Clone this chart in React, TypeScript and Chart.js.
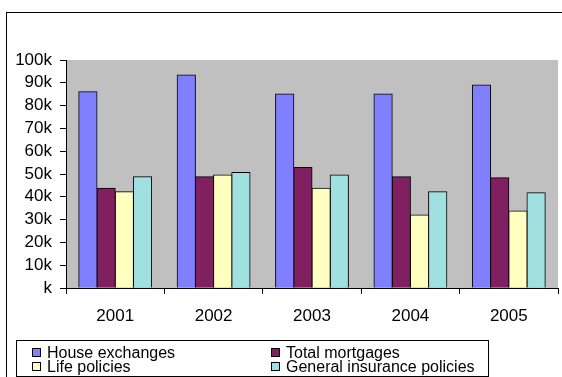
import React, { useEffect, useRef } from "react";
import { Chart, registerables } from "chart.js";

Chart.register(...registerables);

const categories = ["2001", "2002", "2003", "2004", "2005"];
const houseExchanges = [86100, 93400, 85100, 85100, 89000];
const totalMortgages = [43700, 48800, 52800, 48800, 48400];
const lifePolicies = [42200, 49600, 43700, 32000, 33800];
const generalInsurance = [48800, 50700, 49600, 42200, 41800];
const yTickStep = 10000;
const yMax = 100000;

const FONT = '"Liberation Sans", Arial, sans-serif';

const framePlugin = {
  id: "frame",
  beforeDraw(chart: any) {
    const { ctx, chartArea } = chart;
    ctx.save();
    ctx.fillStyle = "#ffffff";
    ctx.fillRect(0, 0, chart.width, chart.height);
    ctx.fillStyle = "#C0C0C0";
    ctx.fillRect(chartArea.left, chartArea.top, chartArea.right - chartArea.left, chartArea.bottom - chartArea.top);
    ctx.restore();
  },
  afterDraw(chart: any) {
    const { ctx } = chart;
    ctx.save();
    ctx.strokeStyle = "#000";
    ctx.lineWidth = 1;
    ctx.strokeRect(6.5, 12.5, 800, 600);
    // legend
    ctx.strokeRect(16.5, 340.5, 472, 36);
    const ds = chart.data.datasets;
    const colX = [32, 271];
    const rowY = [353, 367];
    ctx.font = `16px ${FONT}`;
    ctx.textBaseline = "middle";
    ctx.textAlign = "left";
    ds.forEach((d: any, i: number) => {
      const col = i % 2;
      const row = Math.floor(i / 2);
      const x = colX[col];
      const y = rowY[row];
      ctx.fillStyle = d.backgroundColor;
      ctx.fillRect(x + 0.5, y - 4.5, 8, 8);
      ctx.strokeStyle = "#000";
      ctx.strokeRect(x + 0.5, y - 4.5, 8, 8);
      ctx.fillStyle = "#000";
      ctx.fillText(d.label, x + 15, y + 1);
    });
    ctx.restore();
  },
};

export default function App() {
  const ref = useRef<HTMLCanvasElement>(null);
  useEffect(() => {
    if (!ref.current) return;
    const mk = (label: string, data: number[], color: string) => ({
      label,
      data,
      backgroundColor: color,
      borderColor: "#000",
      borderWidth: 1,
      borderSkipped: "bottom" as any,
      inflateAmount: 0.5,
    });
    const chart = new Chart(ref.current, {
      type: "bar",
      data: {
        labels: categories,
        datasets: [
          mk("House exchanges", houseExchanges, "#8080FF"),
          mk("Total mortgages", totalMortgages, "#802060"),
          mk("Life policies", lifePolicies, "#FFFFC0"),
          mk("General insurance policies", generalInsurance, "#A0E0E0"),
        ],
      },
      options: {
        responsive: false,
        animation: false,
        datasets: { bar: { categoryPercentage: 0.74, barPercentage: 1 } },
        layout: { padding: { left: 0, top: 60, right: 4, bottom: 0 } },
        plugins: { legend: { display: false }, tooltip: { enabled: false } },
        scales: {
          x: {
            afterFit: (s: any) => { s.height = 89; },
            grid: { display: true, drawOnChartArea: false, drawTicks: true, tickLength: 6, color: "#000", offset: true },
            border: { display: true, color: "#000" },
            ticks: { color: "#000", font: { family: FONT, size: 17 }, padding: 12, maxRotation: 0 },
          },
          y: {
            min: 0,
            max: yMax,
            afterFit: (s: any) => { s.width = 66; },
            grid: { display: true, drawOnChartArea: false, drawTicks: true, tickLength: 6, color: "#000" },
            border: { display: true, color: "#000" },
            ticks: {
              stepSize: yTickStep,
              autoSkip: false,
              color: "#000",
              font: { family: FONT, size: 17 },
              padding: 8,
              callback: (v: any) => (Number(v) === 0 ? "k" : Number(v) / 1000 + "k"),
            },
          },
        },
      },
      plugins: [framePlugin],
    });
    return () => chart.destroy();
  }, []);
  return (
    <div style={{ position: "absolute", left: 0, top: 0, width: 562, height: 377 }}>
      <canvas ref={ref} width={562} height={377} style={{ display: "block" }} />
    </div>
  );
}
